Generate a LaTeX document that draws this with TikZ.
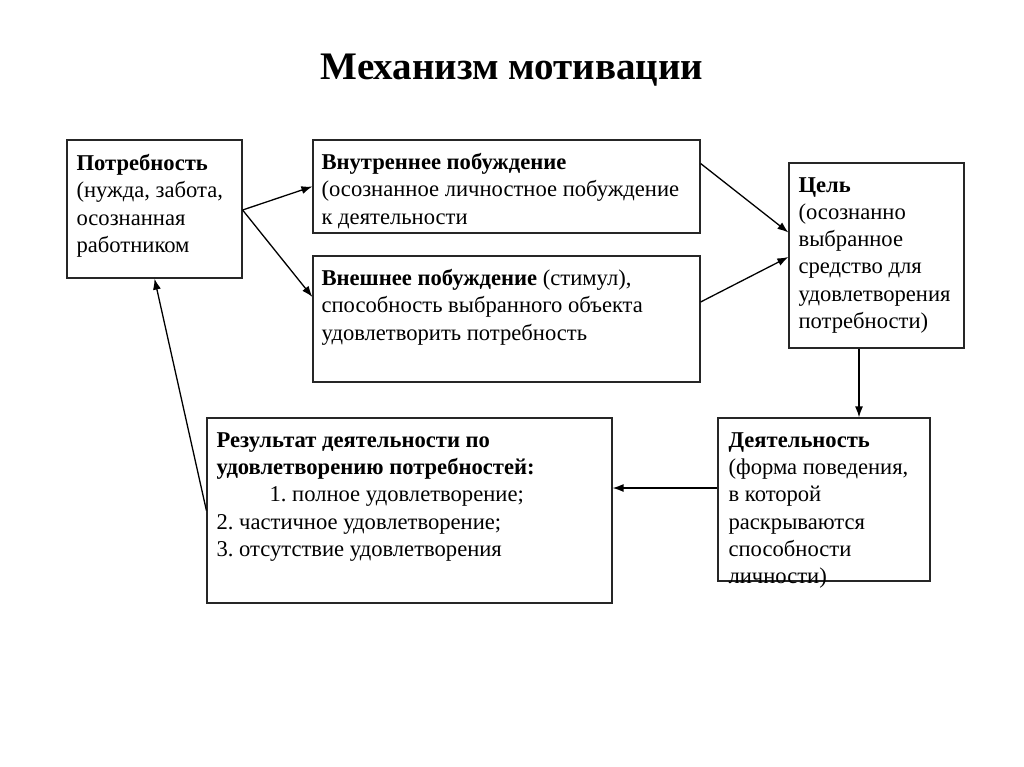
\documentclass[tikz,border=0pt]{standalone}
\usepackage{fontspec}
\setmainfont{Liberation Serif}
\usetikzlibrary{arrows.meta}
\frenchspacing
\tikzset{
  box/.style={draw, line width=1.2pt, draw=black!85, inner sep=0pt},
  txt/.style={anchor=north west, align=left, inner sep=0pt,
    font=\fontsize{22.6}{27.2}\selectfont},
  link/.style={-{Latex[length=11pt,width=8pt]}, line width=1.3pt},
}
\begin{document}
\begin{tikzpicture}[x=1pt, y=-1pt]
\useasboundingbox (0,0) rectangle (1024,767);
\node[font=\fontsize{39}{44}\selectfont\bfseries] (title) at (512,70) {Механизм мотивации};
% boxes
\node[box, minimum width=175, minimum height=138] (need) at (154.5,209) {};
\node[box, minimum width=387, minimum height=93] (inner) at (506.5,186.5) {};
\node[box, minimum width=387, minimum height=126] (outer) at (506.5,319) {};
\node[box, minimum width=175, minimum height=185] (goal) at (876.5,255.5) {};
\node[box, minimum width=405, minimum height=185] (result) at (409.5,510.5) {};
\node[box, minimum width=212, minimum height=163] (act) at (824,499.5) {};
% texts
\node[txt] (needtxt) at ([shift={(10,15)}]need.north west)
  {\textbf{Потребность}\\(нужда, забота,\\осознанная\\работником};
\node[txt] (innertxt) at ([shift={(9,14)}]inner.north west)
  {\textbf{Внутреннее побуждение}\\(осознанное личностное побуждение\\к деятельности};
\node[txt] (outertxt) at ([shift={(9,14)}]outer.north west)
  {\textbf{Внешнее побуждение} (стимул),\\способность выбранного объекта\\удовлетворить потребность};
\node[txt] (goaltxt) at ([shift={(10,15)}]goal.north west)
  {\textbf{Цель}\\(осознанно\\выбранное\\средство для\\удовлетворения\\потребности)};
\node[txt] (resulttxt) at ([shift={(10,15)}]result.north west)
  {\textbf{Результат деятельности по}\\\textbf{удовлетворению потребностей:}\\\hspace*{53pt}1. полное удовлетворение;\\2. частичное удовлетворение;\\3. отсутствие удовлетворения};
\node[txt] (acttxt) at ([shift={(11,15)}]act.north west)
  {\textbf{Деятельность}\\(форма поведения,\\в которой\\раскрываются\\способности\\личности)};
% arrows
\coordinate (needout) at ([yshift=-1]need.east);
\draw[link] (needout) -- (inner.west);
\draw[link] (needout) -- ([yshift=22]outer.west);
\draw[link] ([yshift=23]inner.east) -- ([yshift=23]goal.west);
\draw[link] ([yshift=17]outer.east) -- ([yshift=-1.5]goal.west);
\draw[link] ([xshift=-17.5]goal.south) -- ([xshift=35]act.north);
\draw[link] ([yshift=11.5]act.west) -- ([yshift=22.5]result.east);
\draw[link] (result.west) -- (need.south);
\end{tikzpicture}
\end{document}
